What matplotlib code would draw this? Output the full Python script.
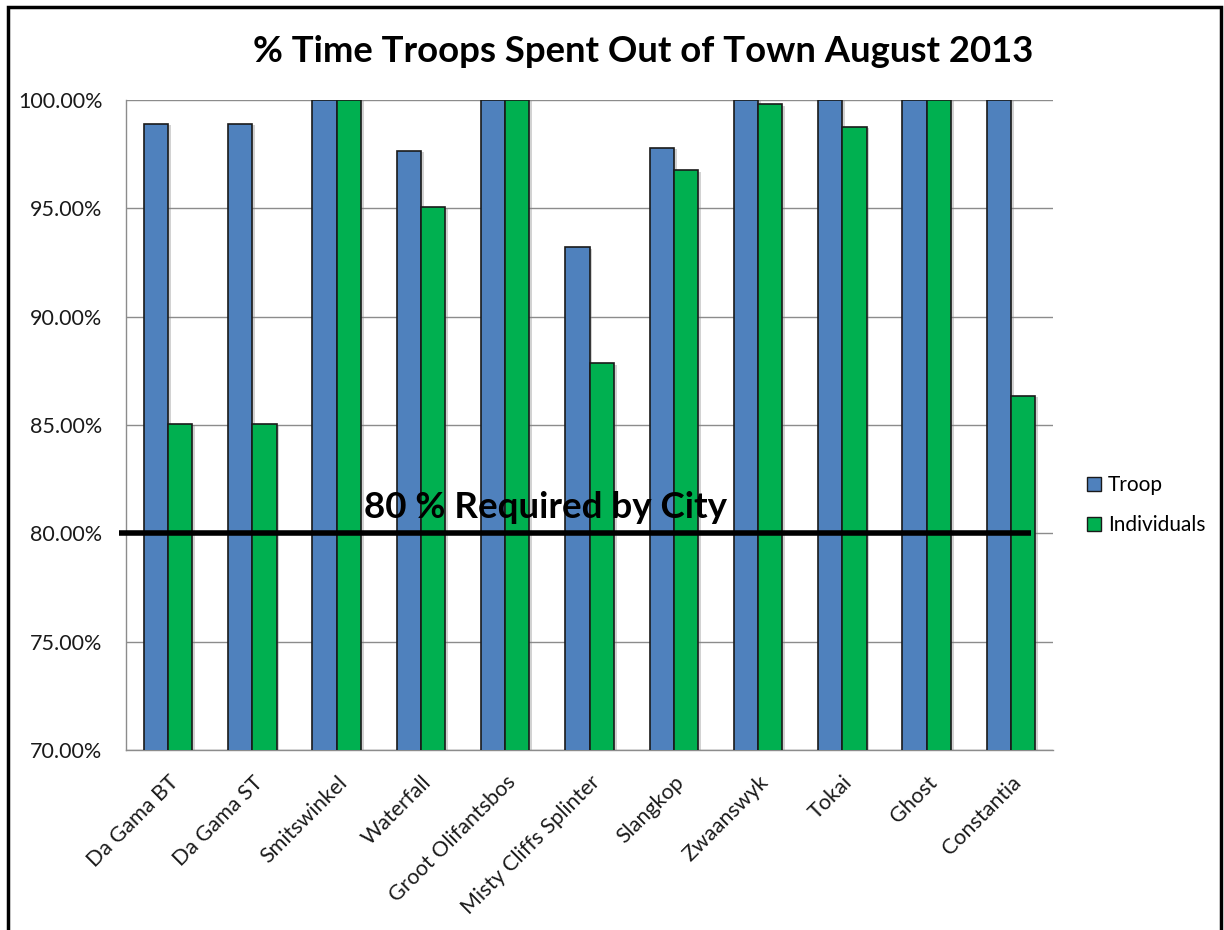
import matplotlib.pyplot as plt
import matplotlib.patheffects as pe
from matplotlib.patches import Rectangle, Patch
from matplotlib.ticker import FuncFormatter
import numpy as np

# data
troops = ["Da Gama BT", "Da Gama ST", "Smitswinkel", "Waterfall", "Groot Olifantsbos",
          "Misty Cliffs Splinter", "Slangkop", "Zwaanswyk", "Tokai", "Ghost", "Constantia"]
troop_pct = [98.9, 98.9, 100.0, 97.65, 100.0, 93.2, 97.8, 100.0, 100.0, 100.0, 100.0]
individual_pct = [85.05, 85.05, 100.0, 95.05, 100.0, 87.85, 96.75, 99.8, 98.75, 100.0, 86.35]
required_pct = 80

plt.rcParams['font.family'] = ['Lato', 'DejaVu Sans']

fig = plt.figure(figsize=(12.24, 9.3), dpi=100)
ax = fig.add_axes([126/1224, 1 - 750/930, (1053-126)/1224, 650/930])

x = np.arange(len(troops))
w = 0.288
shadow = [pe.SimplePatchShadow(offset=(2, -1), shadow_rgbFace='#808080', alpha=0.35), pe.Normal()]
b1 = ax.bar(x - w/2, troop_pct, w, color='#4F81BD', edgecolor='#1a1a1a', linewidth=1.2,
            label='Troop', zorder=3)
b2 = ax.bar(x + w/2, individual_pct, w, color='#00B050', edgecolor='#1a1a1a', linewidth=1.2,
            label='Individuals', zorder=3)
for b in list(b1) + list(b2):
    b.set_path_effects(shadow)

ax.set_xlim(-0.5, len(troops) - 0.5)
ax.set_ylim(70, 100)
ax.set_yticks(np.arange(70, 100.1, 5))
ax.yaxis.set_major_formatter(FuncFormatter(lambda v, p: f"{v:.2f}%"))
ax.grid(axis='y', color='#8c8c8c', linewidth=1.0, zorder=0)
ax.set_axisbelow(True)
for s in ['top', 'right']:
    ax.spines[s].set_visible(False)
for s in ['left', 'bottom']:
    ax.spines[s].set_color('#8c8c8c')
    ax.spines[s].set_linewidth(1.0)
ax.tick_params(axis='y', length=0, pad=17, labelsize=15.5, labelcolor='#1a1a1a')
ax.tick_params(axis='x', length=0, pad=16)
ax.set_xticks(x)
ax.set_xticklabels(troops, rotation=45, ha='right', rotation_mode='anchor',
                   fontsize=15.5, color='#1a1a1a')

# 80% requirement line drawn across the chart
ax.plot([-0.585, 10.235], [required_pct, required_pct], color='black', linewidth=4,
        solid_capstyle='butt', clip_on=False, zorder=5)
ax.text(2.32, required_pct + 0.72, "80 % Required by City", fontsize=26.5, fontweight='bold',
        ha='left', va='baseline', zorder=6)

fig.text(643/1224, 1 - 52/930, "% Time Troops Spent Out of Town August 2013",
         fontsize=26.3, fontweight='bold', ha='center', va='center')

handles = [Patch(facecolor='#4F81BD', edgecolor='#1a1a1a', label='Troop'),
           Patch(facecolor='#00B050', edgecolor='#1a1a1a', label='Individuals')]
fig.legend(handles=handles, loc='center left', bbox_to_anchor=(1087/1224, 1 - 505/930),
           frameon=False, fontsize=15, handlelength=0.65, handleheight=0.65,
           handletextpad=0.35, labelspacing=0.95, borderpad=0, borderaxespad=0)

# outer frame (bottom edge cut off as in the screenshot)
fig.patches.append(Rectangle((7.5/1224, -0.05), (1221-7.5)/1224, 1.05 - 7.5/930,
                             transform=fig.transFigure, fill=False, edgecolor='black',
                             linewidth=2.5))

fig.savefig('out.png', dpi=100)
